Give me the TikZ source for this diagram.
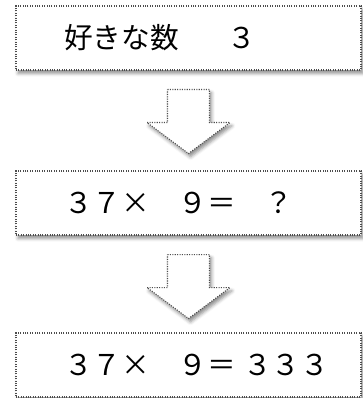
\documentclass[tikz,border=0pt]{standalone}
\usepackage{fontspec}
\newfontfamily\jpfont{Noto Sans CJK JP}
\usepackage{tikz}
\usetikzlibrary{positioning, calc, shadows.blur}

\begin{document}
\begin{tikzpicture}[
    x=0.75pt, y=-0.75pt,
    softshadow/.style={
      blur shadow={shadow xshift=1.5pt, shadow yshift=-2.5pt,
                   shadow blur radius=2.5pt, shadow opacity=45}
    },
    box/.style={
      rectangle, draw=gray!60!black, fill=white,
      densely dotted, line width=0.8pt,
      minimum width=258.75pt, minimum height=48pt,
      inner xsep=0pt, text width=258.75pt, align=left,
      execute at begin node=\hspace*{36pt},
      font=\jpfont\fontsize{21.5}{24}\selectfont, softshadow
    },
    arrline/.style={draw=gray!60!black, fill=white,
                    densely dotted, line width=0.8pt, softshadow},
    downarr/.pic={
      \draw[arrline] (-21,0) -- (21,0) -- (21,33) -- (41.5,33)
        -- (0,64) -- (-41.5,33) -- (-21,33) -- cycle;
    },
  ]
  \useasboundingbox (0,0) rectangle (362,398);

  %% -- three steps, top to bottom --
  \node[box] (fav)    at (188.5, 38)  {好きな数　\hspace{0.7em}３};
  \node[box] (ask)    at (188.5, 203) {３７×　９＝　？};
  \node[box] (answer) at (188.5, 365) {３７×　９＝\hspace{0.25em}３３３};

  %% -- block arrows between the steps --
  \pic at ([yshift=-14.25pt]fav.south) {downarr};
  \pic at ([yshift=-14.25pt]ask.south) {downarr};

\end{tikzpicture}
\end{document}
